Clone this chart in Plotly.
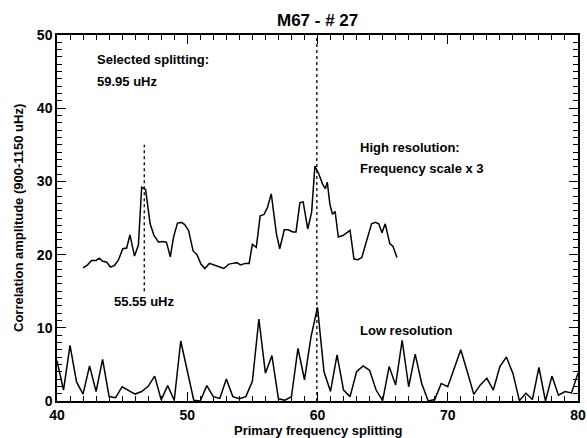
import plotly.graph_objects as go

# ---------------- data ----------------
low_x = [40.0, 40.5, 41.0, 41.5, 42.0, 42.5, 43.0, 43.5, 44.0, 44.5,
         45.0, 45.5, 46.0, 46.5, 47.0, 47.5, 48.0, 48.5, 49.0, 49.5,
         50.0, 50.5, 51.0, 51.5, 52.0, 52.5, 53.0, 53.5, 54.0, 54.5,
         55.0, 55.5, 56.0, 56.5, 57.0, 57.5, 58.0, 58.5, 59.0, 59.5,
         60.0, 60.5, 61.0, 61.5, 62.0, 62.5, 63.0, 63.5, 64.0, 64.5,
         65.0, 65.5, 66.0, 66.5, 67.0, 67.5, 68.0, 68.5, 69.0, 69.5,
         70.0, 70.5, 71.0, 71.5, 72.0, 72.5, 73.0, 73.5, 74.0, 74.5,
         75.0, 75.5, 76.0, 76.5, 77.0, 77.5, 78.0, 78.5, 79.0, 79.5, 80.0]
low_y = [5.5, 1.5, 7.6, 2.6, 0.95, 4.8, 1.3, 5.7, 0.6, 0.45,
         1.95, 1.4, 0.95, 1.3, 2.0, 3.4, 0.15, 2.1, 0.1, 8.2,
         3.9, 0.1, 0.0, 2.1, 0.6, 0.35, 3.0, 0.6, 0.3, 0.6,
         2.7, 11.2, 3.8, 6.2, 0.3, 0.1, 0.6, 7.2, 2.9, 8.75,
         12.8, 4.0, 1.3, 6.3, 1.5, 0.6, 4.0, 4.8, 4.2, 1.5,
         0.05, 4.7, 2.2, 8.3, 1.95, 6.4, 2.4, 0.0, 0.2, 2.4,
         1.95, 4.6, 7.0, 4.0, 0.9, 2.2, 3.1, 1.5, 4.7, 6.0,
         3.8, 0.05, 1.05, 0.2, 4.6, 0.0, 3.4, 0.8, 1.3, 1.1, 3.8]

high_x = [42.0, 42.35, 42.65, 43.0, 43.25, 43.5, 43.8, 44.1, 44.4, 44.7,
          45.05, 45.35, 45.6, 45.95, 46.25, 46.5, 46.8, 47.15, 47.45, 47.8,
          48.1, 48.4, 48.7, 48.95, 49.25, 49.55, 49.8, 50.1, 50.45, 50.75,
          51.05, 51.35, 51.7, 52.1, 52.5, 52.8, 53.2, 53.5, 53.8, 54.1,
          54.45, 54.75, 55.0, 55.3, 55.6, 55.9, 56.15, 56.45, 56.85, 57.1,
          57.45, 57.75, 58.1, 58.35, 58.65, 58.9, 59.25, 59.55, 59.8, 60.1,
          60.4, 60.6, 60.75, 60.95, 61.15, 61.35, 61.6, 61.95, 62.2, 62.5,
          62.8, 63.1, 63.4, 63.75, 64.15, 64.45, 64.7, 64.95, 65.2, 65.55,
          65.8, 66.1]
high_y = [18.2, 18.6, 19.2, 19.2, 19.5, 19.1, 19.0, 18.3, 18.5, 19.2,
          20.8, 20.9, 22.7, 19.8, 21.3, 29.2, 28.9, 24.2, 22.6, 21.7,
          21.8, 21.7, 19.7, 22.4, 24.3, 24.4, 24.1, 23.3, 20.5, 20.0,
          18.7, 18.1, 18.8, 18.5, 18.3, 18.1, 18.7, 18.8, 18.9, 18.6,
          18.8, 18.8, 21.4, 21.0, 25.3, 25.5, 26.4, 28.3, 22.8, 20.8,
          23.4, 23.4, 23.1, 23.1, 27.1, 27.2, 23.5, 25.8, 32.1, 31.0,
          29.6, 29.0, 29.9, 26.9, 25.5, 25.9, 22.4, 22.6, 22.9, 23.3,
          19.4, 19.3, 19.6, 21.9, 24.2, 24.4, 24.2, 23.0, 24.2, 21.5,
          21.1, 19.6]

selected_x = [59.95, 59.95]
selected_y = [0, 50]
alt_x = [46.7, 46.7]
alt_y = [15, 35]

x_ticks = [40, 50, 60, 70, 80]
y_ticks = [0, 10, 20, 30, 40, 50]
x_range = [40, 80]
y_range = [0, 50]

FONT = "Liberation Sans, Arial, Helvetica, sans-serif"

fig = go.Figure()
fig.add_trace(go.Scatter(x=low_x, y=low_y, mode="lines",
                         line=dict(color="black", width=1.5), showlegend=False))
fig.add_trace(go.Scatter(x=high_x, y=high_y, mode="lines",
                         line=dict(color="black", width=1.5), showlegend=False))
fig.add_trace(go.Scatter(x=selected_x, y=selected_y, mode="lines",
                         line=dict(color="black", width=1.3, dash="dot"), showlegend=False))
fig.add_trace(go.Scatter(x=alt_x, y=alt_y, mode="lines",
                         line=dict(color="black", width=1.3, dash="dot"), showlegend=False))
# invisible trace to carry the mirrored (top/right) tick axes
fig.add_trace(go.Scatter(x=[x_range[0]], y=[y_range[0]], xaxis="x2", yaxis="y2",
                         mode="markers", marker=dict(opacity=0), showlegend=False,
                         hoverinfo="skip"))

tick_font = dict(family=FONT, size=14, color="black", weight="bold")
minor = dict(dtick=1, ticks="inside", ticklen=5, tickcolor="black", tickwidth=1)
axis_common = dict(showgrid=False, zeroline=False, showline=True, linecolor="black",
                   linewidth=1.5, mirror=True, ticks="inside", tickcolor="black",
                   ticklen=9, tickwidth=1.2, automargin=False, tickfont=tick_font)

fig.update_layout(
    xaxis=dict(range=x_range, tickvals=x_ticks, ticktext=[str(v) for v in x_ticks],
               minor=minor, **axis_common),
    yaxis=dict(range=y_range, tickvals=y_ticks, ticktext=[str(v) for v in y_ticks],
               minor=minor, **axis_common),
    xaxis2=dict(range=x_range, overlaying="x", side="top", tickvals=x_ticks,
                showticklabels=False, ticks="inside", ticklen=9, tickwidth=1.2,
                tickcolor="black", minor=minor, showgrid=False, zeroline=False,
                showline=False, automargin=False),
    yaxis2=dict(range=y_range, overlaying="y", side="right", tickvals=y_ticks,
                showticklabels=False, ticks="inside", ticklen=9, tickwidth=1.2,
                tickcolor="black", minor=minor, showgrid=False, zeroline=False,
                showline=False, automargin=False),
)

ann_font = dict(family=FONT, size=13, color="black")
texts = [
    ("<b>Selected splitting:</b>", 42.92, 46.7),
    ("<b>59.95 uHz</b>", 42.92, 43.7),
    ("<b>High resolution:</b>", 63.1, 34.6),
    ("<b>Frequency scale x 3</b>", 63.1, 31.7),
    ("<b>55.55 uHz</b>", 44.2, 13.6),
    ("<b>Low resolution</b>", 63.1, 9.7),
]
for t, x, y in texts:
    fig.add_annotation(text=t, x=x, y=y, xref="x", yref="y", xanchor="left",
                       yanchor="middle", showarrow=False, font=ann_font)

fig.add_annotation(text="<b>M67 - # 27</b>", x=0.5, y=1 + 15 / 366, xref="paper", yref="paper",
                   xanchor="center", yanchor="middle", showarrow=False,
                   font=dict(family=FONT, size=17, color="black"))
fig.add_annotation(text="<b>Primary frequency splitting</b>", x=0.5, y=-29 / 366,
                   xref="paper", yref="paper", xanchor="center", yanchor="middle",
                   showarrow=False, font=dict(family=FONT, size=13, color="black"))
fig.add_annotation(text="<b>Correlation amplitude (900-1150 uHz)</b>", x=-39 / 521, y=0.5,
                   xref="paper", yref="paper", xanchor="center", yanchor="middle",
                   textangle=-90, showarrow=False,
                   font=dict(family=FONT, size=13, color="black"))

fig.update_layout(width=587, height=438, margin=dict(l=57, r=9, t=35, b=37),
                  paper_bgcolor="white", plot_bgcolor="white",
                  font=dict(family=FONT, color="black"))

fig.write_html("out.html")
